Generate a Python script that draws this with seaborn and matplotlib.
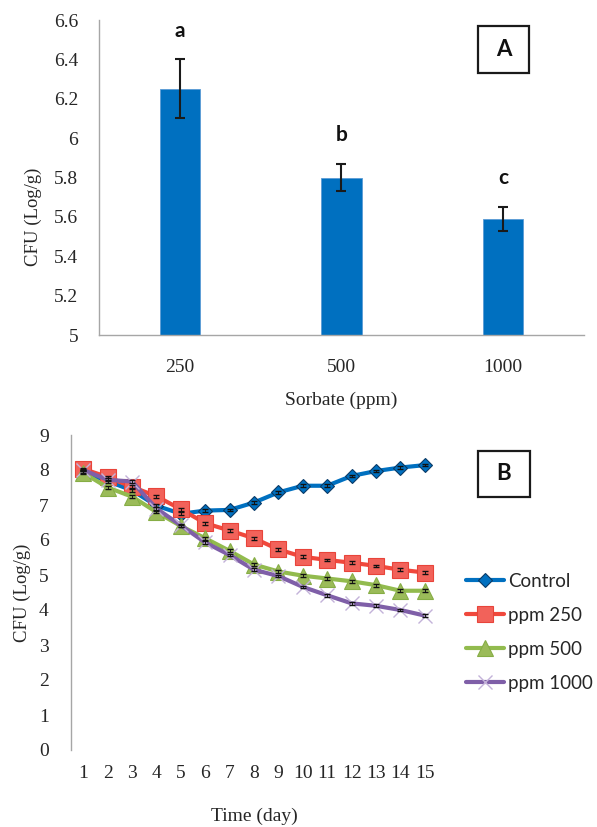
import matplotlib
matplotlib.use("Agg")
import matplotlib.pyplot as plt
import matplotlib.patches as mpatches
import seaborn as sns
import pandas as pd
import numpy as np

# ---------------- data ----------------
sorbate_labels = ["250", "500", "1000"]
sorbate_means = [6.25, 5.80, 5.59]
sorbate_err = [0.15, 0.07, 0.06]
sig_letters = ["a", "b", "c"]

days = list(range(1, 16))
control = [7.95, 7.68, 7.42, 6.98, 6.75, 6.84, 6.86, 7.07, 7.36, 7.55, 7.55, 7.83, 7.97, 8.07, 8.14]
ppm250 = [8.03, 7.80, 7.52, 7.25, 6.88, 6.48, 6.27, 6.05, 5.73, 5.52, 5.43, 5.35, 5.26, 5.15, 5.07]
ppm500 = [7.92, 7.50, 7.24, 6.80, 6.40, 6.05, 5.69, 5.30, 5.10, 4.98, 4.90, 4.82, 4.71, 4.55, 4.55]
ppm1000 = [8.00, 7.72, 7.67, 6.90, 6.42, 5.93, 5.57, 5.15, 4.97, 4.66, 4.42, 4.19, 4.12, 4.00, 3.84]
line_err = [0.04] * 15
series_names = ["Control", "ppm 250", "ppm 500", "ppm 1000"]

# ---------------- style ----------------
sns.set_theme(style="white")
plt.rcParams["font.family"] = ["Liberation Serif", "DejaVu Serif"]

W, H = 597, 827
fig = plt.figure(figsize=(W / 100, H / 100), dpi=100)

def fx(px):
    return px / W

def fy(py):
    return 1 - py / H

axis_grey = "#A6A6A6"
bar_blue = "#0070C0"
sans = ["Lato", "DejaVu Sans"]

# ---------------- panel A ----------------
axA = fig.add_axes([fx(99), fy(335), fx(584) - fx(99), fy(20) - fy(335)])
dfA = pd.DataFrame({"Sorbate": sorbate_labels, "CFU": sorbate_means})
sns.barplot(data=dfA, x="Sorbate", y="CFU", order=sorbate_labels, color=bar_blue,
            width=0.25, ax=axA, errorbar=None, saturation=1,
            edgecolor="#5B9BD5", linewidth=0.6)
xpos = np.arange(len(sorbate_labels))
axA.errorbar(xpos, sorbate_means, yerr=sorbate_err, fmt="none", ecolor="#1a1a1a",
             elinewidth=1.5, capsize=3.5, capthick=1.5)
for i, (m, e, s) in enumerate(zip(sorbate_means, sorbate_err, sig_letters)):
    axA.text(i, m + e + 0.145, s, ha="center", va="center", fontsize=15,
             fontweight="bold", family=sans, color="#111111")
axA.set_ylim(5, 6.6)
axA.set_xlim(-0.5, 2.5)
axA.set_yticks(np.arange(5, 6.61, 0.2))
axA.set_yticklabels(["5", "5.2", "5.4", "5.6", "5.8", "6", "6.2", "6.4", "6.6"])
axA.tick_params(axis="y", direction="out", length=5, width=0.8, color=axis_grey,
                labelsize=14, pad=10)
axA.tick_params(axis="x", length=0, labelsize=14, pad=17)
for sp in ["top", "right"]:
    axA.spines[sp].set_visible(False)
for sp in ["left", "bottom"]:
    axA.spines[sp].set_color(axis_grey)
    axA.spines[sp].set_linewidth(1.0)
axA.set_xlabel("Sorbate (ppm)", fontsize=14)
axA.xaxis.set_label_coords(0.5, -(400 - 335) / 315)
axA.xaxis.label.set_va("center")
axA.set_ylabel("CFU (Log/g)", fontsize=13.5)
axA.yaxis.set_label_coords(-(99 - 33) / 485, 1 - (217 - 20) / 315)
axA.yaxis.label.set_va("center")

# ---------------- panel B ----------------
axB = fig.add_axes([fx(71), fy(750), fx(437) - fx(71), fy(435) - fy(750)])
styles = [
    dict(color="#0070C0", marker="D", markersize=7.5, mfc="#0070C0", mec="#0a3a66", mew=0.8),
    dict(color="#F0483C", marker="s", markersize=11, mfc="#F2625A", mec="#E8443A", mew=0.8),
    dict(color="#92BB4E", marker="^", markersize=11, mfc="#9BBB59", mec="#86AD45", mew=0.8),
    dict(color="#7F5FA8", marker="x", markersize=10, mfc="#C3B2D9", mec="#C3B2D9", mew=1.0),
]
all_series = [control, ppm250, ppm500, ppm1000]
for name, vals, st in zip(series_names, all_series, styles):
    sns.lineplot(x=days, y=vals, ax=axB, label=name, color=st["color"], linewidth=3,
                 marker=st["marker"], markersize=st["markersize"],
                 markerfacecolor=st["mfc"], markeredgecolor=st["mec"],
                 markeredgewidth=st["mew"], zorder=3)
    axB.errorbar(days, vals, yerr=line_err, fmt="none", ecolor="#111111",
                 elinewidth=0.7, capsize=2.5, capthick=1.0, zorder=4)
axB.set_xlim(0.5, 15.5)
axB.set_ylim(0, 9)
axB.set_xticks(days)
axB.set_xticklabels([str(d) for d in days])
axB.set_yticks(range(0, 10))
axB.tick_params(axis="y", direction="out", length=4, width=0.8, color=axis_grey,
                labelsize=14, pad=12)
axB.tick_params(axis="x", length=0, labelsize=14, pad=11)
for sp in ["top", "right", "bottom"]:
    axB.spines[sp].set_visible(False)
axB.spines["left"].set_color(axis_grey)
axB.spines["left"].set_linewidth(1.0)
axB.set_xlabel("Time (day)", fontsize=14)
axB.xaxis.set_label_coords(0.5, -(816 - 750) / 315)
axB.xaxis.label.set_va("center")
axB.set_ylabel("CFU (Log/g)", fontsize=13.5)
axB.yaxis.set_label_coords(-(71 - 22) / 366, 0.5)
axB.yaxis.label.set_va("center")

leg = axB.legend(loc="upper left", bbox_to_anchor=(fx(466), fy(573)),
                 bbox_transform=fig.transFigure, frameon=False, borderpad=0,
                 borderaxespad=0, handlelength=2.0, handletextpad=0.25,
                 labelspacing=0.9, prop={"family": sans, "size": 13.5})

# ---------------- panel labels ----------------
for label, (x0, y0, x1, y1) in [("A", (478, 26, 529, 73)), ("B", (478, 451, 530, 497))]:
    rect = mpatches.Rectangle((fx(x0), fy(y1)), fx(x1) - fx(x0), fy(y0) - fy(y1),
                              transform=fig.transFigure, fill=False,
                              edgecolor="#1a1a1a", linewidth=1.6)
    fig.add_artist(rect)
    fig.text(fx((x0 + x1) / 2), fy((y0 + y1) / 2), label, ha="center", va="center",
             fontsize=16, fontweight="bold", family=sans, color="#111111")

fig.savefig("out.png", dpi=100)
